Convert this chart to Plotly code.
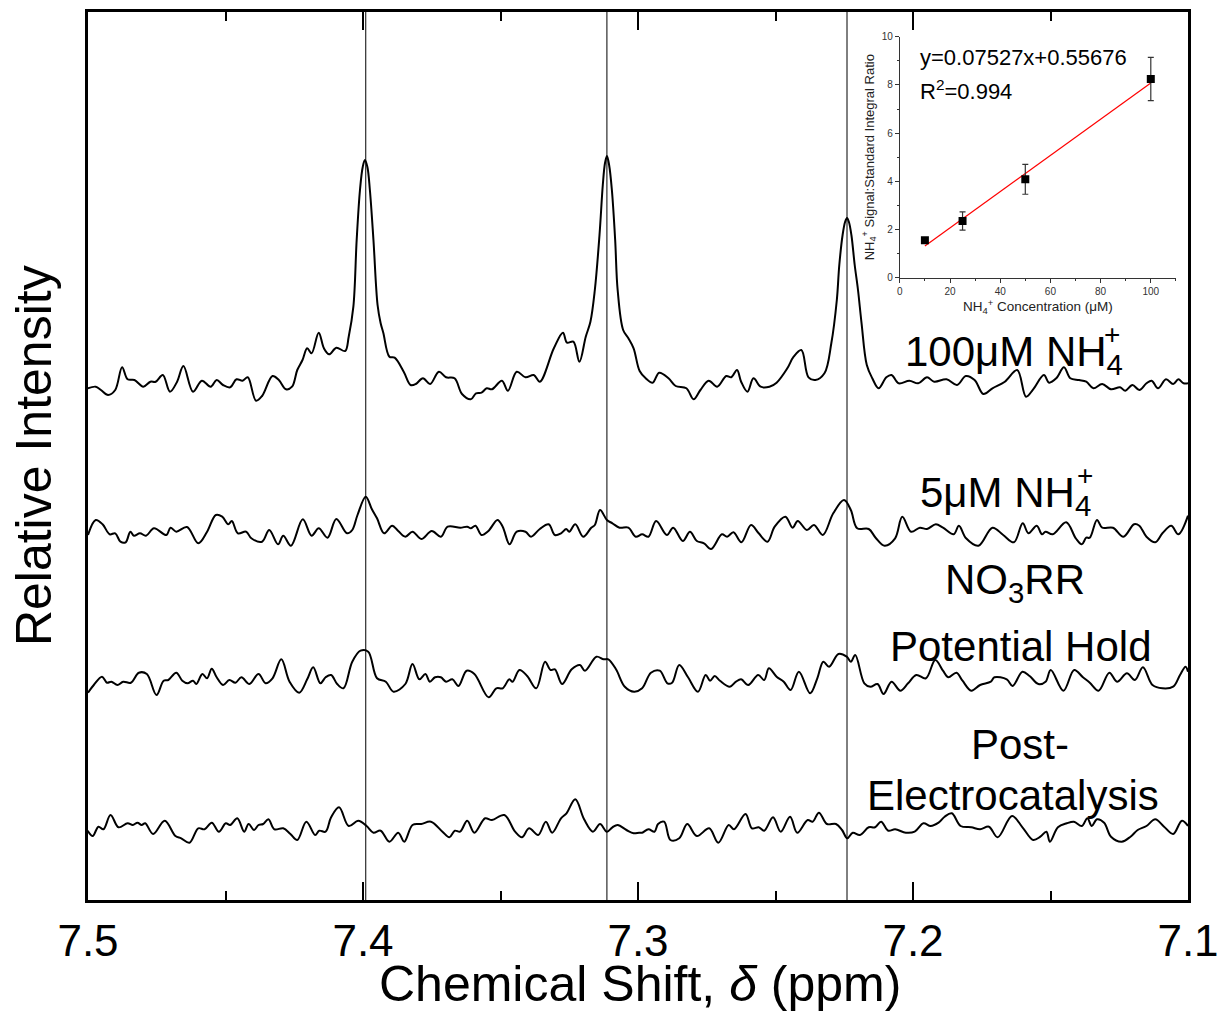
import numpy as np
import plotly.graph_objects as go

# ---------------- main spectra data (ppm, relative intensity) ----------------
PPM_100 = [7.5001,7.4972,7.4953,7.4927,7.4901,7.4876,7.4856,7.4831,7.4799,7.4773,7.4754,7.4728,7.4702,7.4676,7.4653,
           7.4618,7.4586,7.4554,7.4532,7.4509,7.4483,7.4460,7.4438,7.4419,7.4389,7.4367,7.4329,7.4306,7.4280,7.4258,
           7.4239,7.4220,7.4203,7.4187,7.4161,7.4142,7.4123,7.4097,7.4065,7.4052,7.4035,7.4023,7.4011,7.4001,7.3993,
           7.3984,7.3975,7.3962,7.3947,7.3936,7.3926,7.3904,7.3885,7.3852,7.3827,7.3808,7.3782,7.3756,7.3724,7.3698,
           7.3667,7.3640,7.3608,7.3589,7.3569,7.3550,7.3531,7.3495,7.3473,7.3441,7.3409,7.3379,7.3357,7.3306,7.3273,
           7.3258,7.3235,7.3213,7.3190,7.3173,7.3157,7.3140,7.3128,7.3120,7.3113,7.3105,7.3095,7.3083,7.3074,7.3054,
           7.3035,7.3016,7.2994,7.2972,7.2947,7.2923,7.2889,7.2863,7.2824,7.2798,7.2773,7.2743,7.2712,7.2679,7.2661,
           7.2640,7.2625,7.2602,7.2580,7.2554,7.2522,7.2496,7.2457,7.2434,7.2406,7.2380,7.2355,7.2322,7.2297,7.2277,
           7.2268,7.2256,7.2247,7.2240,7.2233,7.2224,7.2212,7.2200,7.2187,7.2168,7.2148,7.2125,7.2097,7.2078,7.2052,
           7.2013,7.1981,7.1949,7.1923,7.1878,7.1840,7.1808,7.1776,7.1744,7.1711,7.1666,7.1621,7.1589,7.1563,7.1524,
           7.1505,7.1479,7.1451,7.1428,7.1396,7.1370,7.1344,7.1312,7.1280,7.1247,7.1228,7.1202,7.1177,7.1151,7.1132,
           7.1109,7.1080,7.1054,7.1035,7.1016,7.1000]
INT_100 = [-3.3,-1.7,-5,-10,-5,17.7,5.7,5,-1.7,3.3,3.3,10,-6.7,3.3,19,
           -6.7,4.3,-1.7,5,0,-2.3,5.7,4.3,7.7,-15.7,-11,9,5,-4.3,-1.7,
           15,25,36.7,31.7,52.3,36.7,30.7,37.3,34,48.3,78.3,145,195,218,225,
           218,195,145,80,62,52,28.3,27.3,13.3,0,1,6.7,1,13.3,7.7,
           6.7,-9,-14.3,-8.3,-7.7,-3.3,-4.3,4.3,-5.7,13.3,7.7,10,3.3,36.7,52.3,
           42.3,43.3,23.3,48.3,63.3,95,150,200,222,229,220,195,145,95,55,
           46.7,36.7,14,6.7,2.3,12.3,6.7,-1,-3.3,-14.3,-5,4.3,-1.7,9,7.7,
           15,3.3,-6.7,6.7,-1.7,-1.7,2.3,16.7,28.3,35,7.7,5,11.7,41.7,85,
           120,150,163,167,163,150,120,95,61.7,20,6.7,-3.3,7.7,10,1.7,
           4.3,1.7,7.7,3.3,5.7,0,9,5,-9,-3.3,3.3,15,-11.7,-4.3,10,
           2.3,6.7,17.7,6.7,5,3.3,-3.3,1,-4.3,-2.3,-5.7,0,-5,1.7,4.3,
           -3.3,5.7,1,5.7,1.7,1.7]

PPM_5 = [7.5000,7.4972,7.4947,7.4921,7.4901,7.4882,7.4863,7.4846,7.4833,7.4811,7.4789,7.4760,7.4715,7.4700,7.4679,
         7.4640,7.4599,7.4567,7.4535,7.4512,7.4490,7.4477,7.4455,7.4425,7.4406,7.4367,7.4341,7.4309,7.4290,7.4262,
         7.4219,7.4187,7.4161,7.4129,7.4097,7.4058,7.4039,7.4020,7.3990,7.3968,7.3949,7.3923,7.3894,7.3872,7.3846,
         7.3820,7.3788,7.3750,7.3717,7.3692,7.3646,7.3621,7.3608,7.3591,7.3569,7.3544,7.3511,7.3492,7.3467,7.3441,
         7.3409,7.3389,7.3357,7.3325,7.3302,7.3280,7.3261,7.3250,7.3228,7.3199,7.3170,7.3157,7.3138,7.3113,7.3093,
         7.3067,7.3035,7.3008,7.2985,7.2962,7.2934,7.2895,7.2872,7.2837,7.2811,7.2786,7.2760,7.2734,7.2695,7.2676,
         7.2653,7.2624,7.2589,7.2561,7.2529,7.2503,7.2464,7.2438,7.2419,7.2386,7.2360,7.2328,7.2290,7.2251,7.2226,
         7.2203,7.2161,7.2136,7.2103,7.2065,7.2039,7.2007,7.1975,7.1949,7.1917,7.1891,7.1852,7.1833,7.1807,7.1762,
         7.1711,7.1672,7.1633,7.1601,7.1580,7.1550,7.1531,7.1518,7.1492,7.1443,7.1408,7.1386,7.1370,7.1357,7.1331,
         7.1312,7.1273,7.1235,7.1196,7.1177,7.1151,7.1119,7.1093,7.1061,7.1035,7.1000]
INT_5 = [-10,5,0.7,-9.3,-8.3,-16.7,-17.3,-6.7,-10.7,-8.3,-10.7,-3.3,-10,-2.7,-6.7,
         -2,-18.3,-6.7,10,8.3,0.7,4,-8.3,-6.7,-13.3,-16.7,-5,-19.3,-10.7,-20.7,
         5.7,-10.7,-3.3,-12.7,6,-8.3,-5,10,28.3,16,6.7,-8.3,-0.7,-6,-11.7,
         -6.7,-14,-6,-11.7,-1.7,-2.7,-1.7,-3.3,-0.7,-10,-6,5,-1.7,-19.3,-6.7,
         -6.7,-11.7,-4,0.7,-10,-8.3,-4,-6.7,0.7,-11.7,-2.7,0,15,5,1.7,
         -2.7,-2.7,-11.7,-9.3,-11.7,4,-10,-2.7,-16,-6.7,-16,-18.3,-24,-9.3,-11.7,
         -7.3,-17.3,0,-8.3,-16.7,-1.7,8.3,-2.7,4,-5,0,-10,11.7,25,15,
         -3.3,-4,-12.7,-20.7,-13.3,8.3,-6.7,-2.7,-4,0.7,-2.7,-9.3,-0.7,-13.3,-20.7,
         -2.7,-10,-17.3,1.7,-8.3,-0.7,-9.3,-6.7,-9.3,2.7,-13.3,-19.3,-12.7,-12.7,5,
         -2.7,-2.7,-11.7,0.7,-0.7,-11.7,-17.3,-8.3,-0.7,-9.3,9.3]

PPM_NO3 = [7.5000,7.4979,7.4949,7.4931,7.4915,7.4893,7.4872,7.4844,7.4815,7.4786,7.4751,7.4725,7.4708,7.4679,7.4657,
           7.4638,7.4618,7.4606,7.4584,7.4567,7.4550,7.4532,7.4509,7.4486,7.4464,7.4442,7.4413,7.4380,7.4354,7.4329,
           7.4297,7.4267,7.4232,7.4203,7.4181,7.4155,7.4136,7.4116,7.4094,7.4071,7.4039,7.4009,7.3981,7.3949,7.3917,
           7.3889,7.3846,7.3820,7.3795,7.3773,7.3757,7.3738,7.3717,7.3698,7.3675,7.3653,7.3623,7.3595,7.3543,7.3515,
           7.3492,7.3468,7.3456,7.3431,7.3403,7.3370,7.3338,7.3318,7.3302,7.3276,7.3241,7.3211,7.3193,7.3151,7.3125,
           7.3108,7.3080,7.3048,7.3014,7.2985,7.2953,7.2921,7.2893,7.2876,7.2850,7.2818,7.2782,7.2754,7.2738,7.2721,
           7.2702,7.2666,7.2644,7.2625,7.2599,7.2563,7.2541,7.2524,7.2496,7.2470,7.2445,7.2415,7.2374,7.2348,7.2326,
           7.2305,7.2271,7.2241,7.2226,7.2210,7.2177,7.2155,7.2129,7.2107,7.2078,7.2046,7.2018,7.1988,7.1953,7.1919,
           7.1891,7.1872,7.1842,7.1820,7.1788,7.1756,7.1717,7.1704,7.1659,7.1638,7.1602,7.1576,7.1544,7.1518,7.1499,
           7.1453,7.1414,7.1382,7.1357,7.1325,7.1286,7.1258,7.1222,7.1193,7.1164,7.1129,7.1093,7.1054,7.1029,7.1009,
           7.1000]
INT_NO3 = [-12.7,-5,3.3,-2.7,-1.7,-5,-1.7,-2.7,7.3,6,-15,-0.7,0,7.3,-0.7,
           -3.3,-0.7,-4,6,1.7,11.3,2.7,-5,0,-2.7,2.7,-4,6,-3.3,1.7,
           20.7,-1.7,-12.7,0.7,12.7,-3.3,2.7,5,-4,-8.3,18.3,29.3,28.3,1.7,-1.7,
           -11.7,-4,16,0.7,6,-1.7,2.7,2.7,-1.7,0.7,-6,9.3,6,-17.3,-8.3,
           -8.3,0.7,-1.7,10,4,-8.3,18.3,10,10.7,-4,10.7,15,9.3,23.3,20.7,
           20.7,10.7,-6.7,-11.7,-8.3,7.3,9.3,-3.3,-2.7,15,2.7,-11.7,5,-0.7,4,
           -0.7,-6.7,-1.7,0.7,-5,5,0,11.7,3.3,-1.7,-10,8.3,-13.3,1.7,18.3,
           13.3,26,23.3,18.3,25,-3.3,-6.7,-4,-14,-1.7,-10.7,-3.3,5,1.7,20,
           9.3,2.7,7.3,-0.7,-10.7,-5,-1.7,2.7,0.7,-6,8.3,4,-4,-1.7,10,
           -10.7,10,2.7,-2.7,-10.7,7.3,-1.7,6.7,0,12.7,-5,-8.3,-6.7,5,13.3,
           8.3]

PPM_POST = [7.5001,7.4983,7.4962,7.4944,7.4918,7.4889,7.4856,7.4837,7.4820,7.4805,7.4792,7.4763,7.4721,7.4682,7.4661,
            7.4631,7.4599,7.4576,7.4550,7.4524,7.4499,7.4483,7.4457,7.4432,7.4416,7.4396,7.4380,7.4363,7.4344,7.4322,
            7.4290,7.4264,7.4239,7.4206,7.4174,7.4159,7.4136,7.4116,7.4087,7.4052,7.4017,7.3987,7.3962,7.3936,7.3904,
            7.3872,7.3850,7.3820,7.3788,7.3753,7.3711,7.3686,7.3666,7.3647,7.3621,7.3595,7.3556,7.3531,7.3486,7.3447,
            7.3422,7.3396,7.3363,7.3335,7.3312,7.3280,7.3260,7.3228,7.3196,7.3164,7.3138,7.3113,7.3093,7.3074,7.3042,
            7.3016,7.2996,7.2985,7.2962,7.2940,7.2927,7.2905,7.2882,7.2850,7.2821,7.2786,7.2741,7.2708,7.2670,7.2651,
            7.2609,7.2586,7.2561,7.2541,7.2509,7.2481,7.2447,7.2421,7.2383,7.2365,7.2342,7.2313,7.2280,7.2258,7.2239,
            7.2219,7.2193,7.2161,7.2138,7.2116,7.2090,7.2065,7.2026,7.1994,7.1962,7.1936,7.1907,7.1885,7.1859,7.1827,
            7.1788,7.1756,7.1724,7.1692,7.1640,7.1602,7.1563,7.1537,7.1515,7.1502,7.1473,7.1441,7.1415,7.1386,7.1366,
            7.1350,7.1331,7.1305,7.1280,7.1241,7.1209,7.1183,7.1151,7.1119,7.1087,7.1054,7.1022,7.1000]
INT_POST = [-5.7,-11,-1.7,-4.3,10,-2.3,1.7,0,2.3,0,1.7,-9,4.3,-11,-13.3,
            -17.7,-3.3,-4.3,2.3,-6.7,1.7,0,6.7,-6.7,1,-5,0,1,5.7,-4.3,
            -3.3,-9,-15,3.3,-10,-5.7,-6.7,7.7,17.7,-1,4.3,-1,-7.7,-5.7,-16.7,
            -7.7,-16.7,0,1,3.3,-6.7,-12.3,-5.7,-6.7,4.3,-7.7,6.7,5,10,-6.7,
            -12.3,-3.3,-10,3.3,-7.7,6.7,11.7,25.7,5.7,-6.7,1,-6.7,-2.3,0,-5,
            -8.3,-7.7,-7.7,-4.3,-6.7,1,3.3,-15,-13.3,1,-11,-3.3,-17.7,0,-4.3,
            11,-3.3,-2.3,-5.7,7.7,-6.7,8.3,-7.7,5,3.3,12.3,1,1,-5,-13.3,
            -7.7,-10,-2.3,-2.3,3.3,-5.7,-4.3,-7.7,-6.7,1.7,-1,2.3,8.3,11.7,-1,
            -2.3,-4.3,-1.7,-12.3,9,-2.3,-15,-11.7,-6.7,-16.7,-2.3,1.7,3.3,-1,6.7,
            -1,5.7,2.3,-11.7,-16.7,-11.7,-5,-1,5.7,-1.7,-9,4.3,-1]

SERIES = [PPM_100, PPM_5, PPM_NO3, PPM_POST]
SERIES_INT = [INT_100, INT_5, INT_NO3, INT_POST]
OFFSETS = [515, 375, 220, 75]          # vertical stacking offsets
PEAK_PPM = [7.399, 7.3113, 7.224]       # reference lines

# ---------------- inset calibration data ----------------
CONC = [10, 25, 50, 100]
RATIO = [1.55, 2.35, 4.08, 8.25]
RATIO_ERR = [0.0, 0.38, 0.62, 0.9]
SLOPE, INTERCEPT = 0.07527, 0.55676
FIT_X = [10, 100]

FONT = "Liberation Sans, Arial, sans-serif"

fig = go.Figure()
for ppm, inten, off in zip(SERIES, SERIES_INT, OFFSETS):
    fig.add_trace(go.Scatter(
        x=ppm, y=[v + off for v in inten], mode="lines",
        line=dict(color="black", width=2, shape="spline", smoothing=1.0),
        showlegend=False, xaxis="x", yaxis="y"))

for p in PEAK_PPM:
    fig.add_vline(x=p, line=dict(color="black", width=1))

# inset
fig.add_trace(go.Scatter(
    x=FIT_X, y=[SLOPE * v + INTERCEPT for v in FIT_X], mode="lines",
    line=dict(color="red", width=1.2), showlegend=False, xaxis="x2", yaxis="y2"))
fig.add_trace(go.Scatter(
    x=CONC, y=RATIO, mode="markers",
    marker=dict(symbol="square", size=8, color="black"),
    error_y=dict(type="data", array=RATIO_ERR, visible=True, color="#333", thickness=1.2, width=3),
    showlegend=False, xaxis="x2", yaxis="y2"))

# the page body adds an 8px margin, so the figure is sized to compensate
fig.update_layout(
    width=1217, height=1004,
    margin=dict(l=80, r=37, t=4, b=112, autoexpand=False),
    paper_bgcolor="white", plot_bgcolor="white",
    font=dict(family=FONT, color="black"),
    xaxis=dict(
        range=[7.5, 7.1], dtick=0.1, tick0=7.1, tickformat=".1f",
        ticks="inside", ticklen=18, tickwidth=2, tickcolor="black",
        minor=dict(dtick=0.05, ticks="inside", ticklen=9, tickwidth=2, tickcolor="black"),
        showline=True, linewidth=3, linecolor="black", mirror="allticks",
        showgrid=False, zeroline=False, automargin=False,
        tickfont=dict(size=44, family=FONT, color="black"),
        ticklabelstandoff=0,
    ),
    yaxis=dict(
        range=[0, 888], showticklabels=False, ticks="",
        showline=True, linewidth=3, linecolor="black", mirror=True,
        showgrid=False, zeroline=False, automargin=False,
    ),
    xaxis2=dict(
        domain=[0.738, 0.989], anchor="y2", range=[0, 110], dtick=20,
        ticks="outside", ticklen=4, tickwidth=1, tickcolor="#333",
        minor=dict(dtick=10, ticks="outside", ticklen=2, tickcolor="#333"),
        showline=True, linewidth=1, linecolor="#333", showgrid=False, zeroline=False,
        automargin=False,
        tickfont=dict(size=10, color="#333"),
        title=dict(text="NH<sub>4</sub><sup>+</sup> Concentration (μM)",
                   font=dict(size=13.5, color="#222"), standoff=6),
    ),
    yaxis2=dict(
        domain=[0.701, 0.972], anchor="x2", range=[0, 10], dtick=2,
        ticks="outside", ticklen=4, tickwidth=1, tickcolor="#333",
        minor=dict(dtick=1, ticks="outside", ticklen=2, tickcolor="#333"),
        showline=True, linewidth=1, linecolor="#333", showgrid=False, zeroline=False,
        automargin=False,
        tickfont=dict(size=10, color="#333"),
        title=dict(text="NH<sub>4</sub><sup>+</sup> Signal:Standard Integral Ratio",
                   font=dict(size=13, color="#222"), standoff=4),
    ),
)

ann = dict(xref="paper", yref="paper", showarrow=False, font=dict(size=42, family=FONT, color="black"))
# (text, x, y, xanchor)
labels = [
    ("100μM NH<sub>4</sub>", 0.741, 0.614, "left"),
    ("5μM NH<sub>4</sub>", 0.7545, 0.455, "left"),
    ("NO<sub>3</sub>RR", 0.843, 0.357, "center"),
    ("Potential Hold", 0.848, 0.286, "center"),
    ("Post-", 0.847, 0.175, "center"),
    ("Electrocatalysis", 0.841, 0.118, "center"),
]
for t, x, y, xa in labels:
    fig.add_annotation(text=t, x=x, y=y, xanchor=xa, yanchor="middle", **ann)

# stacked "+" charges above the subscript 4
for x, y in [(0.9305, 0.637), (0.9065, 0.478)]:
    fig.add_annotation(text="+", x=x, y=y, xanchor="center", yanchor="middle",
                       xref="paper", yref="paper", showarrow=False,
                       font=dict(size=28, family=FONT, color="black"))

fig.add_annotation(text="Relative Intensity", x=-0.049, y=0.5, textangle=-90,
                   xanchor="center", yanchor="middle",
                   xref="paper", yref="paper", showarrow=False,
                   font=dict(size=50, family=FONT, color="black"))
fig.add_annotation(text="Chemical Shift, <i>δ</i> (ppm)", x=0.502, y=-0.095,
                   xanchor="center", yanchor="middle",
                   xref="paper", yref="paper", showarrow=False,
                   font=dict(size=50, family=FONT, color="black"))
fig.add_annotation(text="y=0.07527x+0.55676", x=0.7545, y=0.949, xanchor="left", yanchor="middle",
                   xref="paper", yref="paper", showarrow=False, font=dict(size=22, family=FONT, color="black"))
fig.add_annotation(text="R<sup>2</sup>=0.994", x=0.7545, y=0.912, xanchor="left", yanchor="middle",
                   xref="paper", yref="paper", showarrow=False, font=dict(size=22, family=FONT, color="black"))

fig.write_html("out.html")
